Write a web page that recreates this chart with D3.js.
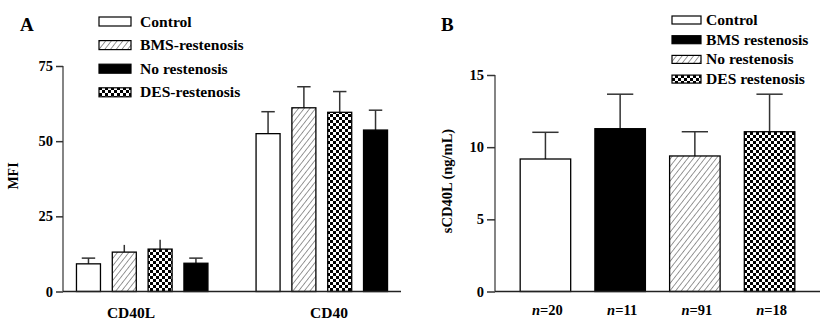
<!DOCTYPE html>
<html>
<head>
<meta charset="utf-8">
<script src="https://cdn.jsdelivr.net/npm/d3@7"></script>
<style>
  html, body { margin: 0; padding: 0; background: #fff; }
  svg { display: block; font-family: "Liberation Serif", "Times New Roman", serif; font-weight: bold; }
</style>
</head>
<body>
<svg id="chart" width="823" height="327"></svg>
<script>
// ---- Panel A: membrane CD40L / CD40 expression (MFI) ----
const groupsA = ["CD40L", "CD40"];
const seriesA = ["Control", "BMS-restenosis", "DES-restenosis", "No restenosis"];
const legendA = ["Control", "BMS-restenosis", "No restenosis", "DES-restenosis"];
const fillsA = { "Control": "white", "BMS-restenosis": "hatch", "No restenosis": "solid", "DES-restenosis": "checker" };
// mean values per group, in series order
const meanCD40L = [9.2, 13.1, 14.1, 9.4];
const meanCD40  = [52.5, 61.1, 59.6, 53.7];
// upper error (SD) per group
const errCD40L = [1.9, 2.4, 3.1, 1.7];
const errCD40  = [7.3, 7.0, 6.9, 6.6];
const capCD40L = [true, false, false, true];
const capCD40  = [true, true, true, true];
const ticksA = [0, 25, 50, 75];

// ---- Panel B: soluble CD40L ----
const groupsB = ["n=20", "n=11", "n=91", "n=18"];
const seriesB = ["Control", "BMS restenosis", "No restenosis", "DES restenosis"];
const fillsB = ["white", "solid", "hatch", "checker"];
const meanB = [9.18, 11.28, 9.39, 11.07];
const errB  = [1.85, 2.39, 1.68, 2.6];
const ticksB = [0, 5, 10, 15];

const svg = d3.select("#chart");
const defs = svg.append("defs");

// diagonal hatch pattern
const hatch = defs.append("pattern").attr("id", "hatch")
  .attr("patternUnits", "userSpaceOnUse").attr("width", 4.5).attr("height", 4.5)
  .attr("patternTransform", "rotate(38)");
hatch.append("rect").attr("width", 4.5).attr("height", 4.5).attr("fill", "white");
hatch.append("line").attr("x1", 0).attr("y1", 0).attr("x2", 0).attr("y2", 4.5)
  .attr("stroke", "#333").attr("stroke-width", 1);

// checkerboard pattern
const checker = defs.append("pattern").attr("id", "checker")
  .attr("patternUnits", "userSpaceOnUse").attr("width", 6).attr("height", 6);
checker.append("rect").attr("width", 6).attr("height", 6).attr("fill", "white");
checker.append("rect").attr("width", 3).attr("height", 3).attr("fill", "black");
checker.append("rect").attr("x", 3).attr("y", 3).attr("width", 3).attr("height", 3).attr("fill", "black");

const fillOf = f => f === "white" ? "white" : f === "solid" ? "black" : `url(#${f})`;

// ================= Panel A =================
const yA = d3.scaleLinear().domain([0, 75]).range([291.5, 66]);
const xA0 = d3.scaleBand().domain(groupsA).range([63, 401]).paddingInner(0.268).paddingOuter(0.075);
const xA1 = d3.scaleBand().domain(seriesA).range([0, xA0.bandwidth()]).paddingInner(0.33).paddingOuter(0);

const gA = svg.append("g");
const rowsA = [
  { g: "CD40L", mean: meanCD40L, err: errCD40L, cap: capCD40L },
  { g: "CD40", mean: meanCD40, err: errCD40, cap: capCD40 }
];
rowsA.forEach(row => {
  seriesA.forEach((s, i) => {
    const x = xA0(row.g) + xA1(s);
    const w = xA1.bandwidth();
    const cx = x + w / 2;
    const top = row.mean[i] + row.err[i];
    gA.append("line").attr("x1", cx).attr("x2", cx)
      .attr("y1", yA(row.mean[i])).attr("y2", yA(top))
      .attr("stroke", "#333").attr("stroke-width", 1.5);
    if (row.cap[i]) {
      gA.append("line").attr("x1", cx - w * 0.28).attr("x2", cx + w * 0.28)
        .attr("y1", yA(top)).attr("y2", yA(top))
        .attr("stroke", "#333").attr("stroke-width", 1.5);
    }
    gA.append("rect").attr("x", x).attr("y", yA(row.mean[i]))
      .attr("width", w).attr("height", yA(0) - yA(row.mean[i]))
      .attr("fill", fillOf(fillsA[s])).attr("stroke", "black").attr("stroke-width", 1.3);
  });
});

const axisA = gA.append("g").attr("transform", "translate(63,0)")
  .call(d3.axisLeft(yA).tickValues(ticksA).tickSize(7).tickPadding(3));
axisA.select(".domain").attr("stroke", "#666").attr("stroke-width", 1.6).attr("d", `M0,${yA(0)}V${yA(75)}`);
axisA.selectAll(".tick line").attr("stroke", "#333").attr("stroke-width", 1.5);
axisA.selectAll(".tick text").attr("font-size", 14.5).attr("font-weight", "bold")
  .attr("font-family", "Liberation Serif").attr("fill", "black");

gA.append("line").attr("x1", 63).attr("x2", 401).attr("y1", yA(0)).attr("y2", yA(0))
  .attr("stroke", "#222").attr("stroke-width", 1.6);

const labelXA = d3.scalePoint().domain(groupsA).range([131, 329]);
gA.selectAll(".glab").data(groupsA).join("text")
  .attr("x", d => labelXA(d)).attr("y", 318).attr("text-anchor", "middle")
  .attr("font-size", 15.5).text(d => d);

gA.append("text").attr("transform", "translate(18,176) rotate(-90)")
  .attr("text-anchor", "middle").attr("font-size", 14).text("MFI");
gA.append("text").attr("x", 20).attr("y", 31).attr("font-size", 19).text("A");

const legA = gA.append("g");
legendA.forEach((s, i) => {
  const cy = 21.5 + i * 23.6;
  legA.append("rect").attr("x", 99).attr("y", cy - 4.5).attr("width", 32).attr("height", 9)
    .attr("fill", fillOf(fillsA[s])).attr("stroke", "black").attr("stroke-width", 1.2);
  legA.append("text").attr("x", 140).attr("y", cy + 5).attr("font-size", 15.6).text(s);
});

// ================= Panel B =================
const yB = d3.scaleLinear().domain([0, 15]).range([291.5, 75]);
const xB = d3.scaleBand().domain(groupsB).range([495, 820]).paddingInner(0.324).paddingOuter(0.337);
const gB = svg.append("g");

groupsB.forEach((g, i) => {
  const x = xB(g), w = xB.bandwidth(), cx = x + w / 2;
  const top = meanB[i] + errB[i];
  gB.append("line").attr("x1", cx).attr("x2", cx).attr("y1", yB(meanB[i])).attr("y2", yB(top))
    .attr("stroke", "#333").attr("stroke-width", 1.5);
  gB.append("line").attr("x1", cx - w * 0.26).attr("x2", cx + w * 0.26).attr("y1", yB(top)).attr("y2", yB(top))
    .attr("stroke", "#333").attr("stroke-width", 1.5);
  gB.append("rect").attr("x", x).attr("y", yB(meanB[i]))
    .attr("width", w).attr("height", yB(0) - yB(meanB[i]))
    .attr("fill", fillOf(fillsB[i])).attr("stroke", "black").attr("stroke-width", 1.3);
});

const axisB = gB.append("g").attr("transform", "translate(495,0)")
  .call(d3.axisLeft(yB).tickValues(ticksB).tickSize(8).tickPadding(3));
axisB.select(".domain").attr("stroke", "#666").attr("stroke-width", 1.6).attr("d", `M0,${yB(0)}V${yB(15)}`);
axisB.selectAll(".tick line").attr("stroke", "#333").attr("stroke-width", 1.5);
axisB.selectAll(".tick text").attr("font-size", 14.5).attr("font-weight", "bold")
  .attr("font-family", "Liberation Serif").attr("fill", "black");

gB.append("line").attr("x1", 495).attr("x2", 820).attr("y1", yB(0)).attr("y2", yB(0))
  .attr("stroke", "#222").attr("stroke-width", 1.6);

// n= labels with italic n
gB.selectAll(".nlab").data(groupsB).join("text")
  .attr("x", d => xB(d) + xB.bandwidth() / 2 + 2).attr("y", 315).attr("text-anchor", "middle")
  .attr("font-size", 14.5)
  .each(function (d) {
    const t = d3.select(this);
    t.append("tspan").attr("font-style", "italic").text(d.slice(0, 1));
    t.append("tspan").text(d.slice(1));
  });

gB.append("text").attr("transform", "translate(452,181) rotate(-90)")
  .attr("text-anchor", "middle").attr("font-size", 14.5).text("sCD40L (ng/mL)");
gB.append("text").attr("x", 441).attr("y", 31).attr("font-size", 19).text("B");

const legB = gB.append("g");
seriesB.forEach((s, i) => {
  const cy = 20 + i * 19.7;
  legB.append("rect").attr("x", 672).attr("y", cy - 4).attr("width", 29).attr("height", 8)
    .attr("fill", fillOf(fillsB[i])).attr("stroke", "black").attr("stroke-width", 1.2);
  legB.append("text").attr("x", 706).attr("y", cy + 5).attr("font-size", 15.6).text(s);
});
</script>
</body>
</html>
